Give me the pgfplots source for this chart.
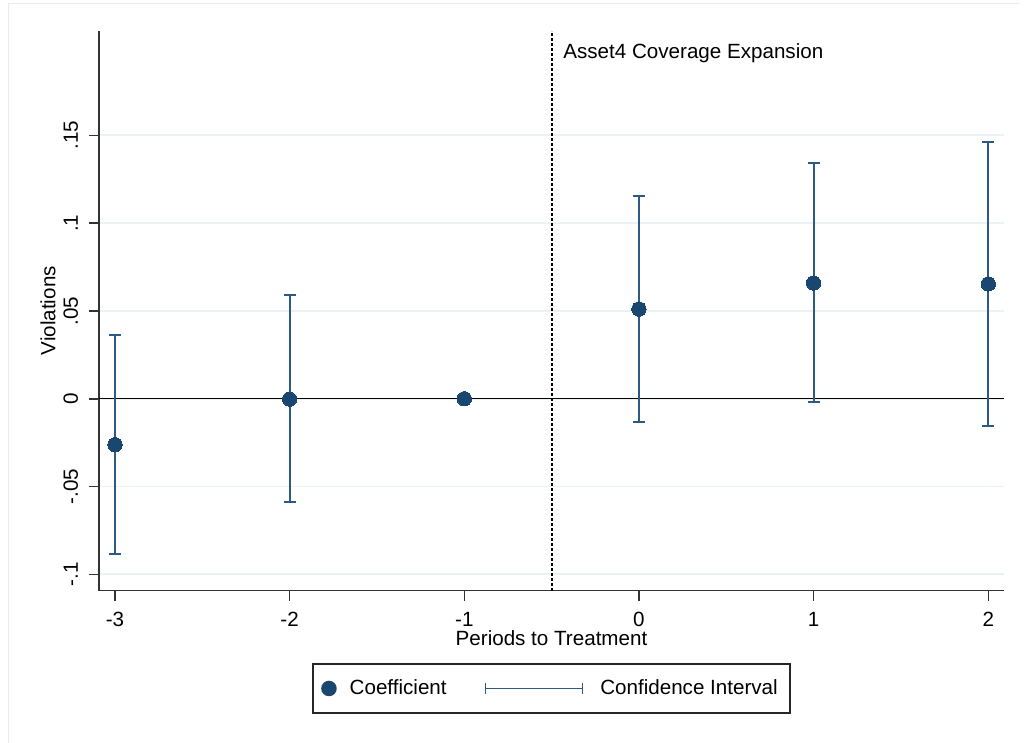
\documentclass[border=0pt]{standalone}
\usepackage{fontspec}
\setmainfont{Liberation Sans}
\usepackage{pgfplots}
\pgfplotsset{compat=1.18}
\usepackage{pgfplotstable}
\definecolor{stnavy}{HTML}{1A476F}
\definecolor{stci}{HTML}{2C5A84}
\definecolor{stgrid}{HTML}{EAF2F3}

\pgfplotstableread{
x coef
-3 -0.0262
-2 -0.0002
-1 0
0 0.0511
1 0.0659
2 0.0654
}\coeftab
\pgfplotstableread{
x coef lo hi
-3 -0.0262 -0.0882 0.0361
-2 -0.0002 -0.0588 0.0590
0 0.0511 -0.0133 0.1153
1 0.0659 -0.0019 0.1341
2 0.0654 -0.0155 0.1461
}\citab

\begin{document}
\begin{tikzpicture}[x=1pt,y=1pt]
\useasboundingbox (0,0) rectangle (512,371.5);
\draw[black!8, line width=0.5pt] (4,0) -- (4,369.5) -- (510,369.5);
\begin{axis}[
  at={(49.5pt,76.15pt)}, anchor=south west,
  scale only axis, width=452.5pt, height=280pt,
  xmin=-3.0916, xmax=2.09, ymin=-0.1093, ymax=0.2096,
  axis x line*=bottom, axis y line*=left,
  axis line style={black!80, line width=0.75pt, -},
  xtick={-3,-2,-1,0,1,2},
  ytick={-0.1,-0.05,0,0.05,0.1,0.15},
  yticklabels={-.1,-.05,0,.05,.1,.15},
  tick style={black!80, line width=0.75pt},
  tick align=outside, major tick length=5pt,
  ymajorgrids, grid style={stgrid, line width=0.9pt},
  font=\fontsize{10.3}{12}\selectfont,
  /pgf/number format/assume math mode=true,
  yticklabel style={xshift=-5.3pt, rotate=90, anchor=south, inner sep=0pt},
  xticklabel style={anchor=north, inner sep=0pt, yshift=-5.5pt},
  xlabel={Periods to Treatment},
  ylabel={Violations},
  xlabel style={at={(axis description cs:0.5,0)}, anchor=north, inner sep=0pt, yshift=-19.5pt},
  ylabel style={at={(axis description cs:-0.0563,0.5)}, anchor=center, inner sep=0pt},
  legend columns=2,
  legend style={at={(0.5,-0.1746)}, anchor=center, draw=black!85, line width=0.75pt,
    inner xsep=4pt, inner ysep=5.75pt, font=\fontsize{10.3}{12}\selectfont,
    /tikz/every even column/.append style={column sep=17pt}},
  legend cell align=left,
]
\addplot[black, line width=0.6pt, forget plot] coordinates {(-3.0916,0) (2.09,0)};
\addplot[black, line width=0.9pt, dash pattern=on 1.2pt off 1.3pt, forget plot] coordinates {(-0.5,-0.1093) (-0.5,0.2096)};
\addplot[forget plot, only marks, mark=none,
  error bars/.cd, y dir=both, y explicit,
  error bar style={stci, line width=0.9pt},
  error mark options={stci, line width=0.9pt, mark size=3pt, rotate=90}]
  table[x=x, y=coef, y error plus expr=\thisrow{hi}-\thisrow{coef}, y error minus expr=\thisrow{coef}-\thisrow{lo}] {\citab};
\addplot[only marks, mark=*, mark size=3.6pt, mark options={fill=stnavy, draw=stnavy, line width=0pt},
  legend image code/.code={\fill[stnavy] (0pt,0pt) circle (3.5pt); \path (8pt,0pt);}]
  table[x=x, y=coef] {\coeftab};
\addlegendentry{Coefficient}
\addlegendimage{legend image code/.code={
  \draw[stci, line width=0.9pt] (0pt,0pt) -- (48.5pt,0pt);
  \draw[stci, line width=0.9pt] (0pt,-2.8pt) -- (0pt,2.8pt);
  \draw[stci, line width=0.9pt] (48.5pt,-2.8pt) -- (48.5pt,2.8pt);
  \path (55pt,0pt);}}
\addlegendentry{Confidence Interval}
\node[anchor=base west, inner sep=0pt] at (axis cs:-0.435,0.1937) {Asset4 Coverage Expansion};
\end{axis}
\end{tikzpicture}
\end{document}
